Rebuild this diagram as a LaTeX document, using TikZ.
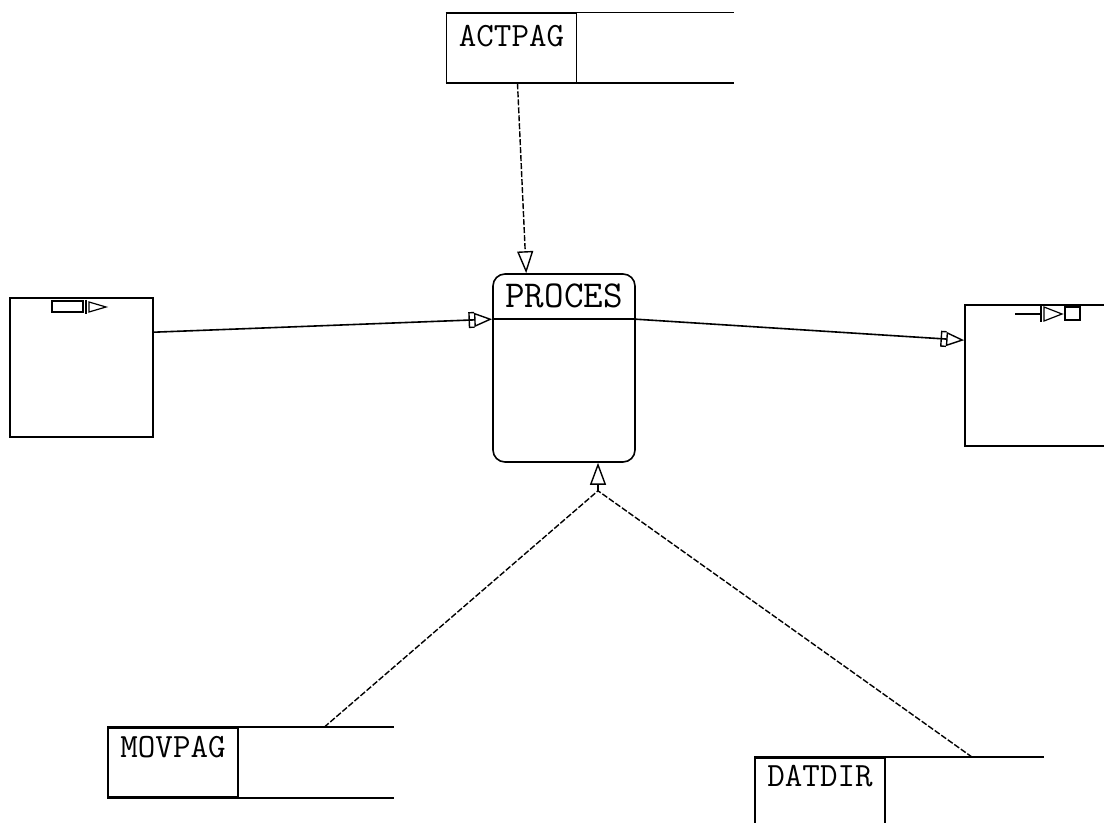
\documentclass[tikz,border=0pt]{standalone}
\usetikzlibrary{arrows.meta,positioning,calc}

\tikzset{
  cell/.style={draw, line width=0.8pt, minimum width=65pt, minimum height=34.5pt, inner sep=0pt},
  lbl/.style={font=\fontsize{17}{18}\ttfamily, inner sep=0pt, anchor=north},
  flow/.style={line width=0.8pt},
  dflow/.style={line width=0.7pt, dash pattern=on 3pt off 1pt},
  opentip/.style={-{Triangle[open, length=11pt, width=8pt]}},
  porttip/.style={-{Bracket[reversed, width=8pt, length=2.5pt, line width=0.7pt] Triangle[open, length=9pt, width=7pt, line width=0.7pt]}}
}

\begin{document}
\begin{tikzpicture}[x=0.5pt, y=-0.5pt]
    \clip (0,0) rectangle (1104,823);
    \fill[white] (0,0) rectangle (1104,823);

    % data stores
    \node[cell] (actpag) at (511.5,48) {};
    \node[lbl] (actpagtxt) at ($(actpag.north)+(0,12)$) {ACTPAG};
    \draw[flow] (actpag.north west) -- ++(288,0);
    \draw[flow] (actpag.south west) -- ++(288,0);

    \node[cell] (movpag) at (173,762.5) {};
    \node[lbl] (movpagtxt) at ($(movpag.north)+(0,9)$) {MOVPAG};
    \draw[flow] (movpag.north west) -- ++(287,0);
    \draw[flow] (movpag.south west) -- ++(287,0);

    \node[cell] (datdir) at (820,792.5) {};
    \node[lbl] (datdirtxt) at ($(datdir.north)+(0,8)$) {DATDIR};
    \draw[flow] (datdir.north west) -- ++(290,0);

    % process
    \node[draw, line width=0.8pt, rounded corners=6pt, minimum width=71pt, minimum height=94pt, inner sep=0pt] (proces) at (564,368) {};
    \node[lbl, font=\fontsize{19}{20}\ttfamily] (procestxt) at ($(proces.north)+(0,10)$) {PROCES};
    \draw[flow] ($(proces.north west)+(0,46)$) -- ($(proces.north east)+(0,46)$);

    % external entities
    \node[draw, line width=0.8pt, minimum width=71.5pt, minimum height=69.5pt, inner sep=0pt] (src) at (81.5,367.5) {};
    \draw[line width=0.6pt] (52,301) rectangle (83,312);
    \draw[line width=0.6pt] (86,300) -- (86,314);
    \draw[line width=0.6pt] (89,302) -- (106,307) -- (89,312) -- cycle;

    \node[draw, line width=0.8pt, minimum width=71.5pt, minimum height=70.5pt, inner sep=0pt] (snk) at (1036.5,375.5) {};
    \draw[line width=0.6pt] (1015,314) -- (1041,314);
    \draw[line width=0.6pt] (1041,306) -- (1041,322);
    \draw[line width=0.6pt] (1044,307) -- (1062,314) -- (1044,321) -- cycle;
    \draw[line width=0.6pt] (1065,307) rectangle (1080,320);

    % flows
    \draw[dflow, opentip] ($(actpag.south)+(6,0)$) -- ($(proces.north west)+(34,0)$);
    \draw[flow, porttip] ($(src.north east)+(0,35)$) -- ($(proces.north west)+(0,46)$);
    \draw[flow, porttip] ($(proces.north east)+(0,46)$) -- ($(snk.north west)+(0,36)$);

    \coordinate (join) at ($(proces.south)+(34,28)$);
    \draw[dflow] ($(movpag.north west)+(217,0)$) -- (join);
    \draw[dflow] ($(datdir.north west)+(218,0)$) -- (join);
    \draw[dflow, opentip] (join) -- ($(proces.south)+(34,0)$);
\end{tikzpicture}
\end{document}
